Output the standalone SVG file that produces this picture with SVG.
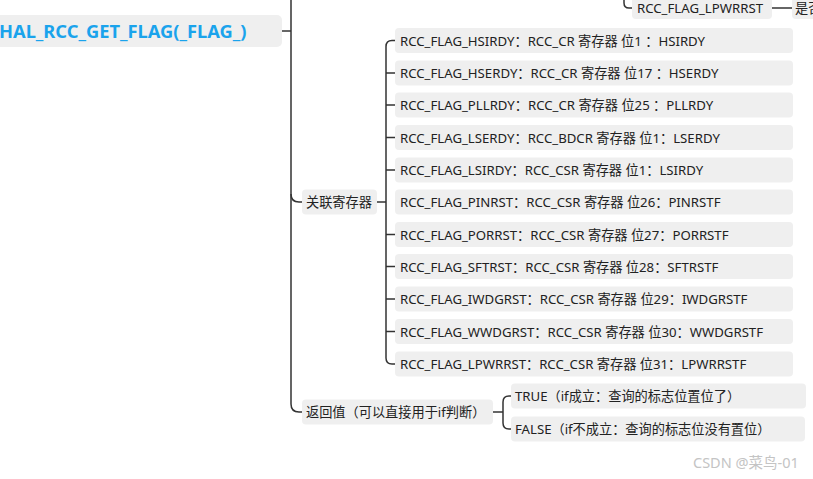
<svg xmlns="http://www.w3.org/2000/svg" width="813" height="479" viewBox="0 0 813 479">
<style>
.box{fill:#efefef}
.t{font-family:"Noto Sans","Noto Sans CJK SC",sans-serif;font-size:13.2px;fill:#222}
.main{font-family:"Noto Sans","Noto Sans CJK SC",sans-serif;font-size:18.3px;font-weight:bold;fill:#1aa3ec}
.ln{fill:none;stroke:#333;stroke-width:1.5}
.wm{font-family:"Noto Sans","Noto Sans CJK SC",sans-serif;font-size:14.5px;fill:#c4c4c4}
</style>
<rect width="813" height="479" fill="#fff"/>
<g id="connectors">
<path class="ln" d="M282,31 H291"/>
<path class="ln" d="M291,0 V404 Q291,412 299,412 H302"/>
<path class="ln" d="M291,194 Q291,202 299,202 H302"/>
<path class="ln" d="M377,202 H386"/>
<path class="ln" d="M395,40.5 H392 Q386,40.5 386,46.5 V358 Q386,364 392,364 H395"/>
<path class="ln" d="M386,73 H395 M386,105 H395 M386,137.5 H395 M386,170 H395 M386,234.5 H395 M386,266.5 H395 M386,299 H395 M386,331.5 H395"/>
<path class="ln" d="M493,412 H503"/>
<path class="ln" d="M511,396 H509 Q503,396 503,402 V423 Q503,429 509,429 H511"/>
<path class="ln" d="M624,0 V3 Q624,8 629,8 H632"/>
<path class="ln" d="M772,8 H792"/>
</g>
<g id="n-main">
<rect class="box" x="-10" y="15" width="292" height="32" rx="5"/>
<text class="main" x="-1" y="38">HAL_RCC_GET_FLAG(_FLAG_)</text>
</g>
<g id="n-lpwrrst-top">
<rect class="box" x="632" y="-5" width="140" height="24" rx="4"/>
<text class="t" x="637" y="13">RCC_FLAG_LPWRRST</text>
</g>
<g id="n-shifou">
<rect class="box" x="792" y="-5" width="40" height="24" rx="4"/>
<text class="t" x="795" y="13">是否</text>
</g>
<g id="n-reg">
<rect class="box" x="302" y="189.5" width="75" height="25" rx="4"/>
<text class="t" x="306" y="207">关联寄存器</text>
</g>
<g id="n-r1"><rect class="box" x="395" y="28" width="398" height="25" rx="4"/><text class="t" x="400" y="45.5">RCC_FLAG_HSIRDY：RCC_CR 寄存器 位1 ：HSIRDY</text></g>
<g id="n-r2"><rect class="box" x="395" y="60.5" width="398" height="25" rx="4"/><text class="t" x="400" y="78">RCC_FLAG_HSERDY：RCC_CR 寄存器 位17 ：HSERDY</text></g>
<g id="n-r3"><rect class="box" x="395" y="92.5" width="398" height="25" rx="4"/><text class="t" x="400" y="110">RCC_FLAG_PLLRDY：RCC_CR 寄存器 位25 ：PLLRDY</text></g>
<g id="n-r4"><rect class="box" x="395" y="125" width="398" height="25" rx="4"/><text class="t" x="400" y="142.5">RCC_FLAG_LSERDY：RCC_BDCR 寄存器 位1：LSERDY</text></g>
<g id="n-r5"><rect class="box" x="395" y="157.5" width="398" height="25" rx="4"/><text class="t" x="400" y="175">RCC_FLAG_LSIRDY：RCC_CSR 寄存器 位1：LSIRDY</text></g>
<g id="n-r6"><rect class="box" x="395" y="189.5" width="398" height="25" rx="4"/><text class="t" x="400" y="207">RCC_FLAG_PINRST：RCC_CSR 寄存器 位26：PINRSTF</text></g>
<g id="n-r7"><rect class="box" x="395" y="222" width="398" height="25" rx="4"/><text class="t" x="400" y="239.5">RCC_FLAG_PORRST：RCC_CSR 寄存器 位27：PORRSTF</text></g>
<g id="n-r8"><rect class="box" x="395" y="254" width="398" height="25" rx="4"/><text class="t" x="400" y="271.5">RCC_FLAG_SFTRST：RCC_CSR 寄存器 位28：SFTRSTF</text></g>
<g id="n-r9"><rect class="box" x="395" y="286.5" width="398" height="25" rx="4"/><text class="t" x="400" y="304">RCC_FLAG_IWDGRST：RCC_CSR 寄存器 位29：IWDGRSTF</text></g>
<g id="n-r10"><rect class="box" x="395" y="319" width="398" height="25" rx="4"/><text class="t" x="400" y="336.5">RCC_FLAG_WWDGRST：RCC_CSR 寄存器 位30：WWDGRSTF</text></g>
<g id="n-r11"><rect class="box" x="395" y="351.5" width="398" height="25" rx="4"/><text class="t" x="400" y="369">RCC_FLAG_LPWRRST：RCC_CSR 寄存器 位31：LPWRRSTF</text></g>
<g id="n-ret">
<rect class="box" x="302" y="399.5" width="191" height="25" rx="4"/>
<text class="t" x="306" y="417">返回值（可以直接用于if判断）</text>
</g>
<g id="n-true">
<rect class="box" x="511" y="383.5" width="295" height="25" rx="4"/>
<text class="t" x="515" y="401">TRUE（if成立：查询的标志位置位了）</text>
</g>
<g id="n-false">
<rect class="box" x="511" y="416.5" width="294" height="25" rx="4"/>
<text class="t" x="515" y="434">FALSE（if不成立：查询的标志位没有置位）</text>
</g>
<text class="wm" x="693" y="468">CSDN @菜鸟-01</text>
</svg>
